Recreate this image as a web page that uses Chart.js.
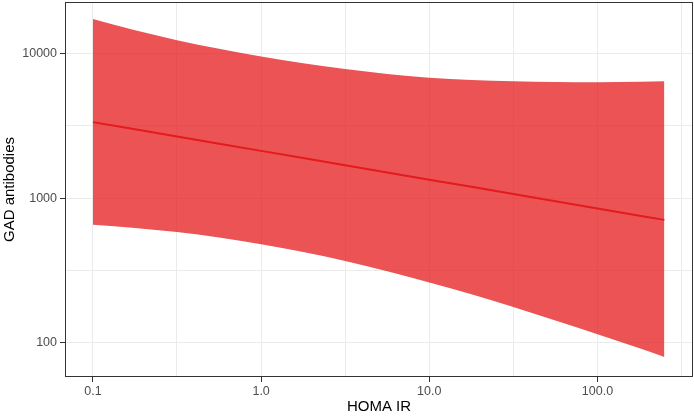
<!DOCTYPE html>
<html>
<head>
<meta charset="utf-8">
<script src="https://cdn.jsdelivr.net/npm/chart.js@4.4.1/dist/chart.umd.min.js"></script>
<style>
  body { margin: 0; background: #fff; }
  canvas { display: block; }
</style>
</head>
<body>
<canvas id="homa_chart" width="694" height="416"></canvas>
<script>
// values (HOMA IR vs GAD antibodies, log-log)
const homa = [0.1, 0.178, 0.316, 0.562, 1, 1.78, 3.16, 5.62, 10, 17.8, 31.6, 56.2, 100, 178, 250];
const gadFit = [3350, 2986, 2667, 2377, 2120, 1892, 1687, 1504, 1342, 1197, 1067, 952, 849, 757, 708];
const gadUpper = [17260, 14420, 12330, 10740, 9506, 8531, 7780, 7211, 6776, 6546, 6412, 6339, 6310, 6353, 6412];
const gadLower = [654, 623, 583, 534, 480, 424, 368, 313, 262, 217, 177, 143, 115, 92, 80];

const xMajor = [0.1, 1, 10, 100];
const xMinor = [0.316, 3.16, 31.6, 316];
const xLabels = ["0.1", "1.0", "10.0", "100.0"];
const yMajor = [100, 1000, 10000];
const yMinor = [316, 3162];
const yLabels = ["100", "1000", "10000"];

const pts = (ys) => homa.map((x, i) => ({ x: x, y: ys[i] }));

const tickFont = { family: "'Liberation Sans', Arial, sans-serif", size: 12.5 };
const titleFont = { family: "'Liberation Sans', Arial, sans-serif", size: 15 };

// panel border like ggplot theme_bw
const panelBorder = {
    id: 'panelBorder',
    afterDraw(chart) {
        const a = chart.chartArea;
        const ctx = chart.ctx;
        ctx.save();
        ctx.strokeStyle = '#333333';
        ctx.lineWidth = 1;
        ctx.strokeRect(Math.round(a.left) + 0.5, Math.round(a.top) + 0.5,
            Math.round(a.right - a.left) - 1, Math.round(a.bottom - a.top) - 1);
        ctx.restore();
    }
};

function setTicks(major, minor) {
    return function (scale) {
        scale.ticks = major.concat(minor).map(v => ({ value: v, major: major.indexOf(v) >= 0 }));
    };
}

var chart = new Chart(document.getElementById('homa_chart').getContext('2d'), {
    type: 'line',
    data: {
        datasets: [{
            label: 'fit',
            data: pts(gadFit),
            borderColor: '#E41A1C',
            borderWidth: 2,
            pointRadius: 0,
            fill: false
        }, {
            label: 'upper',
            data: pts(gadUpper),
            borderWidth: 0,
            borderColor: 'rgba(0,0,0,0)',
            backgroundColor: 'rgba(228, 26, 28, 0.75)',
            pointRadius: 0,
            cubicInterpolationMode: 'monotone',
            fill: '+1'
        }, {
            label: 'lower',
            data: pts(gadLower),
            borderWidth: 0,
            borderColor: 'rgba(0,0,0,0)',
            pointRadius: 0,
            cubicInterpolationMode: 'monotone',
            fill: false
        }]
    },
    options: {
        responsive: false,
        devicePixelRatio: 1,
        animation: false,
        layout: { padding: { left: 0, right: 1, top: 2, bottom: 0 } },
        plugins: { legend: { display: false }, tooltip: { enabled: false } },
        scales: {
            x: {
                type: 'logarithmic',
                min: 0.0682,
                max: 370,
                afterBuildTicks: setTicks(xMajor, xMinor),
                afterFit: (s) => { s.height = 39; s.paddingLeft = 0; s.paddingRight = 0; },
                border: { display: false },
                grid: {
                    color: '#EBEBEB',
                    lineWidth: 1,
                    tickLength: 5,
                    tickColor: (c) => (c.tick && xMajor.indexOf(c.tick.value) >= 0) ? '#333333' : 'rgba(0,0,0,0)'
                },
                ticks: {
                    autoSkip: false,
                    maxRotation: 0,
                    padding: 2,
                    color: '#4D4D4D',
                    font: tickFont,
                    callback: (v) => { const i = xMajor.indexOf(v); return i >= 0 ? xLabels[i] : ''; }
                },
                title: { display: true, text: 'HOMA IR', color: '#000', font: titleFont, padding: { top: 2, bottom: 0 } }
            },
            y: {
                type: 'logarithmic',
                min: 58.2,
                max: 22620,
                afterBuildTicks: setTicks(yMajor, yMinor),
                afterFit: (s) => { s.width = 65; s.paddingTop = 0; s.paddingBottom = 0; },
                border: { display: false },
                grid: {
                    color: '#EBEBEB',
                    lineWidth: 1,
                    tickLength: 5,
                    tickColor: (c) => (c.tick && yMajor.indexOf(c.tick.value) >= 0) ? '#333333' : 'rgba(0,0,0,0)'
                },
                ticks: {
                    autoSkip: false,
                    padding: 3,
                    color: '#4D4D4D',
                    font: tickFont,
                    callback: (v) => { const i = yMajor.indexOf(v); return i >= 0 ? yLabels[i] : ''; }
                },
                title: { display: true, text: 'GAD antibodies', color: '#000', font: titleFont, padding: { top: 1, bottom: 0 } }
            }
        }
    },
    plugins: [panelBorder]
});
</script>
</body>
</html>
